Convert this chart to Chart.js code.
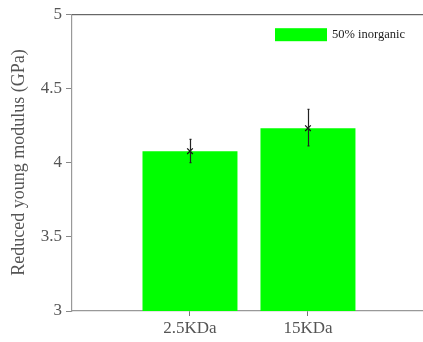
<!DOCTYPE html>
<html>
<head>
<meta charset="utf-8">
<script src="https://cdn.jsdelivr.net/npm/chart.js@4"></script>
<style>
  html, body { margin: 0; padding: 0; background: #fff; }
  #wrap { width: 423px; height: 342px; position: relative; }
</style>
</head>
<body>
<div id="wrap"><canvas id="chart"></canvas></div>
<script>
'use strict';

// ── Data ────────────────────────────────────────────────────
const categories = ['2.5KDa', '15KDa'];
const seriesLabel = '50% inorganic';
const modulus    = [4.077, 4.232];
const errLow     = [4.00, 4.113];
const errHigh    = [4.156, 4.358];
const yTicks     = [3, 3.5, 4, 4.5, 5];

const SERIF = "'Liberation Serif', 'DejaVu Serif', serif";

// bars sit at x = 1, 2 on a linear axis (plot runs 0 .. ~3)
const barPoints  = modulus.map((v, i) => ({ x: i + 1, y: v }));

// ── error bars + top frame + inside legend ──────────────────
const extras = {
  id: 'extras',
  afterDatasetsDraw(chart) {
    const { ctx, chartArea, scales: { x, y } } = chart;
    ctx.save();
    ctx.strokeStyle = '#222';
    ctx.lineWidth = 1.2;
    categories.forEach((_, i) => {
      const px = Math.round(x.getPixelForValue(i + 1)) + 0.5;
      const top = y.getPixelForValue(errHigh[i]);
      const bot = y.getPixelForValue(errLow[i]);
      ctx.beginPath();
      ctx.moveTo(px, top);
      ctx.lineTo(px, bot);
      ctx.moveTo(px - 1, top);
      ctx.lineTo(px + 1, top);
      ctx.moveTo(px - 1, bot);
      ctx.lineTo(px + 1, bot);
      ctx.stroke();
    });

    // top frame line
    ctx.strokeStyle = '#444';
    ctx.lineWidth = 1;
    ctx.beginPath();
    ctx.moveTo(chartArea.left, chartArea.top + 0.5);
    ctx.lineTo(chartArea.right, chartArea.top + 0.5);
    ctx.stroke();

    // legend inside plot, top right
    const ds = chart.data.datasets.find(d => d.label === seriesLabel);
    const bx = 275;
    const by = chartArea.top + 14;
    ctx.fillStyle = ds.backgroundColor;
    ctx.fillRect(bx, by, 52, 13);
    ctx.fillStyle = '#222';
    ctx.font = '12.5px ' + SERIF;
    ctx.textBaseline = 'middle';
    ctx.fillText(ds.label, bx + 57, by + 7);
    ctx.restore();
  }
};

new Chart(document.getElementById('chart'), {
  type: 'bar',
  data: {
    datasets: [
      {
        type: 'scatter',
        label: 'mean',
        data: barPoints,
        pointStyle: 'crossRot',
        pointRadius: 4,
        borderColor: '#111',
        borderWidth: 1.2,
        order: 0
      },
      {
        label: seriesLabel,
        data: barPoints,
        backgroundColor: '#00ff00',
        borderWidth: 0,
        categoryPercentage: 1,
        barPercentage: 0.805,
        order: 1
      }
    ]
  },
  options: {
    responsive: true,
    maintainAspectRatio: false,
    animation: false,
    layout: { autoPadding: false, padding: { top: 14, right: 0, left: 0, bottom: 0 } },
    plugins: {
      legend: { display: false },
      tooltip: { enabled: false }
    },
    scales: {
      x: {
        type: 'linear',
        offset: false,
        min: 0,
        max: 2.975,
        afterBuildTicks: (s) => { s.ticks = categories.map((_, i) => ({ value: i + 1 })); },
        afterFit: (s) => { s.height = 31; s.paddingRight = 0; s.paddingLeft = 0; },
        ticks: {
          callback: (v) => categories[v - 1],
          color: '#555',
          font: { family: SERIF, size: 17 },
          padding: 2,
          maxRotation: 0
        },
        grid: { display: true, offset: false, drawOnChartArea: false, drawTicks: true, tickLength: 5, color: '#777', lineWidth: 1 },
        border: { display: true, color: '#999', width: 1.2 }
      },
      y: {
        min: 3,
        max: 5,
        afterBuildTicks: (s) => { s.ticks = yTicks.map(v => ({ value: v })); },
        afterFit: (s) => { s.width = 72; },
        ticks: {
          callback: (v) => String(v),
          color: '#555',
          font: { family: SERIF, size: 17 },
          padding: 4
        },
        grid: { display: true, drawOnChartArea: false, drawTicks: true, tickLength: 6, color: '#888' },
        border: { display: true, color: '#999', width: 1.2 },
        title: {
          display: true,
          text: 'Reduced young modulus (GPa)',
          color: '#555',
          font: { family: SERIF, size: 18 },
          padding: { top: 8, bottom: 0 }
        }
      }
    }
  },
  plugins: [extras]
});
</script>
</body>
</html>
